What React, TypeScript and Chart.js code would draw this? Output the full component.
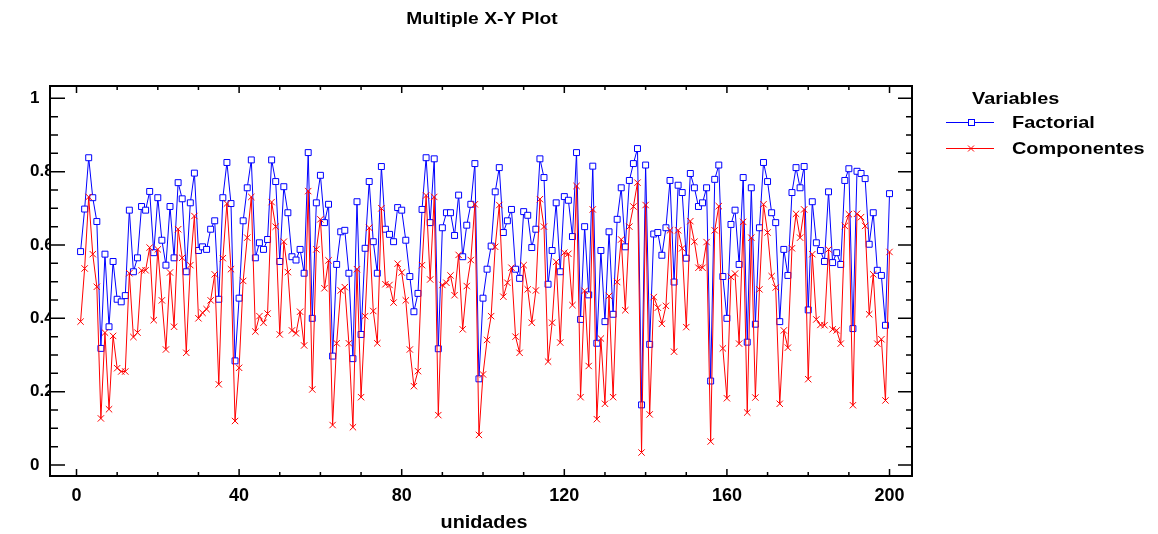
import React, { useEffect, useRef } from "react";
import { Chart, registerables } from "chart.js";

Chart.register(...registerables);

// Observation index (1..200)
const unidades: number[] = Array.from({ length: 200 }, (_, i) => i + 1);

const factorial: number[] = [
  0.582, 0.698, 0.838, 0.729, 0.664, 0.318, 0.575, 0.377, 0.555, 0.452,
  0.445, 0.462, 0.695, 0.527, 0.565, 0.705, 0.695, 0.746, 0.579, 0.729,
  0.613, 0.545, 0.705, 0.565, 0.770, 0.726, 0.527, 0.715, 0.796, 0.585,
  0.595, 0.588, 0.643, 0.666, 0.452, 0.729, 0.825, 0.713, 0.284, 0.455,
  0.666, 0.756, 0.832, 0.565, 0.606, 0.588, 0.615, 0.832, 0.773, 0.555,
  0.759, 0.688, 0.568, 0.559, 0.588, 0.523, 0.852, 0.400, 0.715, 0.790,
  0.661, 0.711, 0.297, 0.547, 0.636, 0.640, 0.523, 0.290, 0.718, 0.356,
  0.591, 0.773, 0.609, 0.523, 0.814, 0.643, 0.629, 0.609, 0.702, 0.695,
  0.613, 0.514, 0.418, 0.468, 0.697, 0.838, 0.661, 0.835, 0.317, 0.647,
  0.688, 0.688, 0.626, 0.736, 0.568, 0.654, 0.711, 0.822, 0.235, 0.455,
  0.534, 0.597, 0.745, 0.811, 0.634, 0.666, 0.697, 0.534, 0.509, 0.691,
  0.681, 0.593, 0.643, 0.835, 0.784, 0.493, 0.585, 0.715, 0.527, 0.732,
  0.722, 0.623, 0.852, 0.397, 0.650, 0.464, 0.815, 0.332, 0.585, 0.391,
  0.636, 0.411, 0.670, 0.756, 0.595, 0.776, 0.822, 0.863, 0.164, 0.818,
  0.329, 0.630, 0.634, 0.572, 0.647, 0.776, 0.499, 0.763, 0.743, 0.564,
  0.795, 0.756, 0.705, 0.715, 0.756, 0.229, 0.779, 0.818, 0.514, 0.400,
  0.656, 0.695, 0.547, 0.784, 0.335, 0.756, 0.384, 0.647, 0.825, 0.773,
  0.688, 0.661, 0.391, 0.588, 0.517, 0.743, 0.811, 0.756, 0.814, 0.423,
  0.718, 0.606, 0.585, 0.555, 0.745, 0.552, 0.579, 0.547, 0.776, 0.808,
  0.372, 0.801, 0.795, 0.781, 0.602, 0.688, 0.531, 0.517, 0.381, 0.740,
];

const componentes: number[] = [
  0.391, 0.536, 0.731, 0.575, 0.486, 0.127, 0.361, 0.152, 0.352, 0.264,
  0.255, 0.255, 0.523, 0.349, 0.361, 0.531, 0.531, 0.593, 0.395, 0.588,
  0.449, 0.315, 0.525, 0.377, 0.643, 0.565, 0.306, 0.545, 0.679, 0.400,
  0.415, 0.425, 0.449, 0.520, 0.220, 0.564, 0.713, 0.534, 0.120, 0.265,
  0.502, 0.620, 0.731, 0.364, 0.406, 0.388, 0.413, 0.717, 0.650, 0.356,
  0.609, 0.526, 0.367, 0.359, 0.418, 0.326, 0.747, 0.206, 0.588, 0.670,
  0.482, 0.558, 0.109, 0.332, 0.476, 0.485, 0.332, 0.103, 0.534, 0.185,
  0.406, 0.647, 0.420, 0.332, 0.700, 0.493, 0.491, 0.443, 0.549, 0.525,
  0.449, 0.315, 0.215, 0.256, 0.545, 0.735, 0.506, 0.731, 0.136, 0.491,
  0.497, 0.517, 0.463, 0.573, 0.370, 0.488, 0.559, 0.711, 0.082, 0.247,
  0.341, 0.406, 0.595, 0.709, 0.459, 0.497, 0.538, 0.350, 0.306, 0.545,
  0.479, 0.388, 0.476, 0.725, 0.650, 0.282, 0.388, 0.554, 0.334, 0.579,
  0.576, 0.436, 0.761, 0.185, 0.475, 0.270, 0.697, 0.125, 0.345, 0.167,
  0.461, 0.185, 0.499, 0.615, 0.422, 0.650, 0.705, 0.770, 0.034, 0.709,
  0.138, 0.458, 0.429, 0.385, 0.434, 0.640, 0.309, 0.640, 0.591, 0.376,
  0.665, 0.609, 0.538, 0.538, 0.608, 0.064, 0.640, 0.706, 0.318, 0.182,
  0.513, 0.522, 0.331, 0.663, 0.143, 0.620, 0.184, 0.479, 0.711, 0.634,
  0.515, 0.484, 0.167, 0.367, 0.320, 0.591, 0.685, 0.620, 0.697, 0.234,
  0.575, 0.397, 0.382, 0.381, 0.588, 0.370, 0.367, 0.331, 0.652, 0.684,
  0.163, 0.685, 0.676, 0.652, 0.411, 0.520, 0.331, 0.343, 0.176, 0.581,
];

const xTickValues: number[] = [0, 40, 80, 120, 160, 200];
const yTickValues: number[] = [0, 0.2, 0.4, 0.6, 0.8, 1];
const xMinorStep = 10;
const yMinorStep = 0.05;

const BLUE = "#0000ff";
const RED = "#ff0000";
const FONT = '"Liberation Sans", Arial, sans-serif';

function drawStretchedText(
  ctx: CanvasRenderingContext2D,
  text: string,
  x: number,
  y: number,
  size: number,
  sx: number,
  align: CanvasTextAlign
) {
  ctx.save();
  ctx.translate(x, y);
  ctx.scale(sx, 1);
  ctx.font = `bold ${size}px ${FONT}`;
  ctx.fillStyle = "#000";
  ctx.textAlign = align;
  ctx.textBaseline = "alphabetic";
  ctx.fillText(text, 0, 0);
  ctx.restore();
}

// Frame, inward tick marks, title, axis title and legend box
const decorPlugin = {
  id: "decor",
  afterDraw(chart: any) {
    const { ctx, chartArea: a, scales } = chart;
    const xs = scales.x;
    const ys = scales.y;
    ctx.save();
    ctx.strokeStyle = "#000";

    // tick marks on all four sides
    ctx.lineWidth = 1.5;
    ctx.beginPath();
    for (let v = 0; v <= 200 + 1e-9; v += xMinorStep) {
      const px = xs.getPixelForValue(v);
      const major = Math.abs(v % 40) < 1e-9;
      const len = major ? 7 : 4;
      ctx.moveTo(px, a.bottom);
      ctx.lineTo(px, a.bottom - len);
      ctx.moveTo(px, a.top);
      ctx.lineTo(px, a.top + len);
    }
    for (let k = 0; k <= 20; k++) {
      const v = k * yMinorStep;
      const py = ys.getPixelForValue(v);
      const major = k % 4 === 0;
      ctx.moveTo(a.left, py);
      ctx.lineTo(a.left + (major ? 15 : 8), py);
      ctx.moveTo(a.right, py);
      ctx.lineTo(a.right - (major ? 14 : 6), py);
    }
    ctx.stroke();

    // plot frame
    ctx.lineWidth = 2;
    ctx.strokeRect(a.left, a.top, a.right - a.left, a.bottom - a.top);

    // titles
    drawStretchedText(ctx, "Multiple X-Y Plot", 482, 24, 16, 1.2, "center");
    drawStretchedText(ctx, "unidades", 484, 528, 18, 1.1, "center");

    // legend
    drawStretchedText(ctx, "Variables", 972, 104, 17, 1.17, "left");
    drawStretchedText(ctx, "Factorial", 1012, 128, 17, 1.17, "left");
    drawStretchedText(ctx, "Componentes", 1012, 154, 17, 1.17, "left");

    ctx.lineWidth = 1;
    ctx.strokeStyle = BLUE;
    ctx.beginPath();
    ctx.moveTo(946, 122.5);
    ctx.lineTo(994, 122.5);
    ctx.stroke();
    ctx.fillStyle = "#fff";
    ctx.fillRect(968.5, 119.5, 6, 6);
    ctx.strokeRect(968.5, 119.5, 6, 6);

    ctx.strokeStyle = RED;
    ctx.beginPath();
    ctx.moveTo(946, 148.5);
    ctx.lineTo(994, 148.5);
    ctx.moveTo(968, 145.5);
    ctx.lineTo(974, 151.5);
    ctx.moveTo(974, 145.5);
    ctx.lineTo(968, 151.5);
    ctx.stroke();

    ctx.restore();
  },
};

export default function App() {
  const canvasRef = useRef<HTMLCanvasElement | null>(null);

  useEffect(() => {
    if (!canvasRef.current) return;
    const chart = new Chart(canvasRef.current, {
      type: "line",
      data: {
        datasets: [
          {
            label: "Componentes",
            data: unidades.map((u, i) => ({ x: u, y: componentes[i] })),
            borderColor: RED,
            borderWidth: 1,
            pointStyle: "crossRot",
            pointRadius: 4.5,
            pointBorderColor: RED,
            pointBorderWidth: 1,
            pointBackgroundColor: RED,
            tension: 0,
            order: 0,
          },
          {
            label: "Factorial",
            data: unidades.map((u, i) => ({ x: u, y: factorial[i] })),
            borderColor: BLUE,
            borderWidth: 1,
            pointStyle: "rect",
            pointRadius: 4.2,
            pointBorderColor: BLUE,
            pointBorderWidth: 1,
            pointBackgroundColor: "#ffffff",
            tension: 0,
            order: 1,
          },
        ],
      },
      options: {
        responsive: false,
        animation: false,
        events: [],
        layout: { padding: { top: 86, right: 246, left: 30, bottom: 0 } },
        plugins: {
          legend: { display: false },
          title: { display: false },
          tooltip: { enabled: false },
        },
        scales: {
          x: {
            type: "linear",
            min: -6.52,
            max: 205.53,
            grid: { display: false, drawTicks: false },
            border: { display: false },
            afterBuildTicks: (s: any) => {
              s.ticks = xTickValues.map((v) => ({ value: v }));
            },
            afterFit: (s: any) => {
              s.height = 58;
            },
            ticks: {
              padding: 9,
              color: "#000",
              maxRotation: 0,
              autoSkip: false,
              font: { family: FONT, size: 18, weight: "bold" },
              callback: (v: any) => String(v),
            },
          },
          y: {
            type: "linear",
            min: -0.03,
            max: 1.0336,
            grid: { display: false, drawTicks: false },
            border: { display: false },
            afterBuildTicks: (s: any) => {
              s.ticks = yTickValues.map((v) => ({ value: v }));
            },
            afterFit: (s: any) => {
              s.width = 20;
            },
            ticks: {
              crossAlign: "far",
              color: "#000",
              autoSkip: false,
              font: { family: FONT, size: 17, weight: "bold" },
              callback: (v: any) => String(Math.round(Number(v) * 10) / 10),
            },
          },
        },
      },
      plugins: [decorPlugin],
    } as any);
    return () => chart.destroy();
  }, []);

  return (
    <div style={{ position: "fixed", left: 0, top: 0, width: 1158, height: 534, background: "#fff" }}>
      <canvas ref={canvasRef} width={1158} height={534} style={{ width: 1158, height: 534 }} />
    </div>
  );
}
